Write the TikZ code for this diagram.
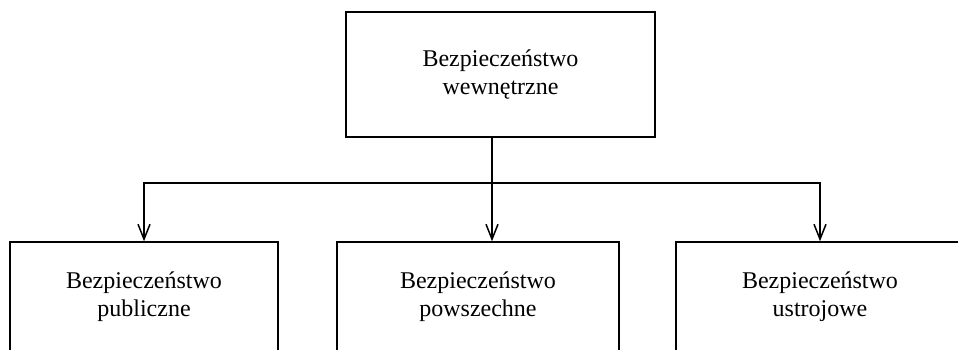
\documentclass[tikz,border=0pt]{standalone}
\usepackage{fontspec}
\setmainfont{Liberation Serif}
\usetikzlibrary{positioning,arrows.meta}

\begin{document}
\begin{tikzpicture}[x=1pt,y=-1pt,
  box/.style={draw,line width=1.5pt,align=center,inner sep=0pt,
    font=\fontsize{24}{28}\selectfont},
  link/.style={line width=1.5pt},
  arr/.style={link,-{Straight Barb[length=15pt,width=12pt]}}
]
\useasboundingbox (0,0) rectangle (958,350);
\clip (0,0) rectangle (958,350);

% the upper box
\node[box,minimum width=309pt,minimum height=125pt] (wew) at (500.5,74.5)
  {Bezpieczeństwo\\wewnętrzne};

% the lower boxes
\foreach \name/\xc/\boxw/\txt in {pub/144/268/publiczne,pow/478/282/powszechne,ust/820/288/ustrojowe}
  \node[box,minimum width=\boxw pt,minimum height=110pt] (\name) at (\xc,297)
    {Bezpieczeństwo\\\txt};

% the edges
\coordinate (hub) at (492,183);
\draw[link] ([xshift=-8.5pt]wew.south) -- (hub);
\draw[arr] (hub) -- (hub |- pow.north);
\foreach \name in {pub,ust}
  \draw[arr] (hub) -| (\name.north);
\end{tikzpicture}
\end{document}
